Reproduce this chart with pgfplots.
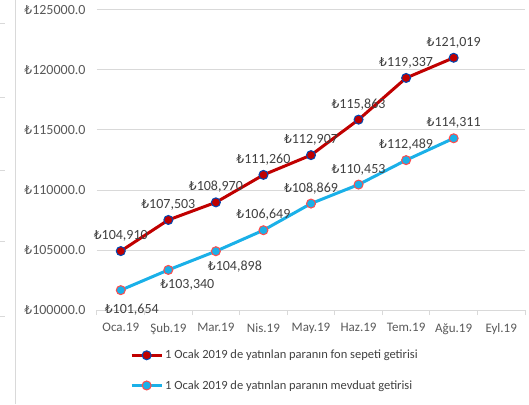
\documentclass[border=0pt]{standalone}
\usepackage{fontspec}
\setmainfont{Carlito}
\newfontfamily\lirafont{DejaVu Sans}[Scale=0.88]
\usepackage{pgfplots}
\pgfplotsset{compat=1.18}
\definecolor{fonred}{HTML}{C00000}
\definecolor{mevblue}{HTML}{1AB0E8}
\definecolor{gridgray}{HTML}{D9D9D9}
\definecolor{labgray}{HTML}{404040}
\definecolor{tickgray}{HTML}{595959}
\newcommand{\TL}{{\lirafont ₺}}
\newcommand{\lbl}{\TL\pgfmathprintnumber[fixed,precision=0,1000 sep={,},assume math mode=true]{\pgfplotspointmeta}}

\begin{document}
\begin{tikzpicture}
% edge of the neighbouring chart
\draw[gridgray, line width=1pt] (-81pt,-94pt) -- (-81pt,310pt);
\foreach \yy in {286,212,139,68,-6} \draw[gridgray, line width=1pt] (-97pt,\yy pt) -- (-92pt,\yy pt);
\begin{axis}[
    at={(0,0)}, anchor=south west,
    scale only axis,
    width=428pt, height=300pt,
    xmin=-0.5, xmax=8.5,
    ymin=100000, ymax=125000,
    ytick={100000,105000,...,125000},
    scaled y ticks=false,
    xtick={0,...,8},
    xticklabels={Oca.19,Şub.19,Mar.19,Nis.19,May.19,Haz.19,Tem.19,Ağu.19,Eyl.19},
    minor xtick={-0.5,0.5,...,8.5},
    major tick length=0pt, minor tick length=5pt,
    tick align=outside,
    axis x line*=bottom,
    axis y line*=left,
    y axis line style={draw=none},
    x axis line style={draw=gridgray, line width=1pt},
    minor x tick style={draw=gridgray, line width=1pt},
    ymajorgrids,
    grid style={gridgray, line width=1pt},
    yticklabel={\TL\pgfmathprintnumber[fixed,fixed zerofill,precision=1,1000 sep={},assume math mode=true]{\tick}},
    yticklabel style={font=\fontsize{14}{16}\selectfont, text=tickgray, xshift=-8pt},
    xticklabel style={font=\fontsize{13}{15}\selectfont, text=tickgray, yshift=-10pt},
    nodes near coords style={font=\fontsize{14}{16}\selectfont, text=labgray},
    legend cell align=left,
    legend style={draw=none, fill=none, font=\fontsize{12.5}{15}\selectfont, text=labgray,
        at={(axis description cs:0.07,-0.12)}, anchor=north west,
        row sep=16pt},
    legend image code/.code={
        \draw[#1, mark=none] (0pt,0pt) -- (30pt,0pt);
        \draw[#1, only marks] plot coordinates {(15pt,0pt)};
    },
]
\addplot[fonred, line width=3pt, mark=*, mark size=4.5pt,
    mark options={fill=fonred, draw=blue!60!cyan!70!black, line width=1pt},
    nodes near coords={\lbl},
    every node near coord/.append style={anchor=south, yshift=6pt}]
coordinates {(0,104910) (1,107503) (2,108970) (3,111260) (4,112907) (5,115863) (6,119337) (7,121019)};
\addlegendentry{1 Ocak 2019 de yatınlan paranın fon sepeti getirisi}
\addplot[mevblue, line width=3pt, mark=*, mark size=4.5pt,
    mark options={fill=mevblue, draw=red!70!white, line width=1pt}]
coordinates {(0,101654) (1,103340) (2,104898) (3,106649) (4,108869) (5,110453) (6,112489) (7,114311)};
\addlegendentry{1 Ocak 2019 de yatınlan paranın mevduat getirisi}
% data labels of the deposit series
\addplot[draw=none, forget plot, nodes near coords={\lbl},
    every node near coord/.append style={anchor=north, yshift=-10pt, xshift=11pt}]
coordinates {(0,101654)};
\addplot[draw=none, forget plot, nodes near coords={\lbl},
    every node near coord/.append style={anchor=north, yshift=-6pt, xshift=19pt}]
coordinates {(1,103340) (2,104898)};
\addplot[draw=none, forget plot, nodes near coords={\lbl},
    every node near coord/.append style={anchor=south, yshift=6pt}]
coordinates {(3,106649) (4,108869) (5,110453) (6,112489) (7,114311)};
\end{axis}
\pgfresetboundingbox
\path[use as bounding box] (-97pt,-94pt) rectangle (432pt,310pt);
\end{tikzpicture}
\end{document}
